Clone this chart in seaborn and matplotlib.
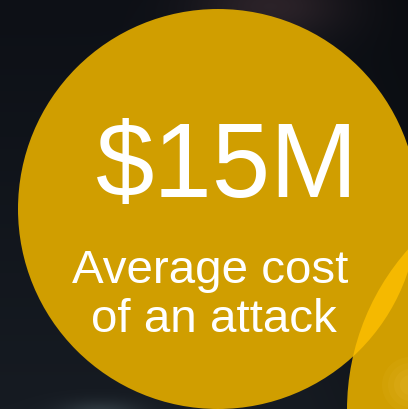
import numpy as np
import matplotlib
matplotlib.use("Agg")
import matplotlib.pyplot as plt
import seaborn as sns
from matplotlib.patches import Circle

# ---- content (infographic) ----
headline = "$15M"
caption_lines = ["Average cost", "of an attack"]

# circles: centre x, centre y, radius (pixel units of the 408x409 canvas)
circle_x = [218, 589]
circle_y = [209, 410]
circle_r = [200, 242]

sns.set_theme(style="dark")
plt.rcParams['font.family'] = ['Liberation Sans', 'DejaVu Sans']

W, H = 408, 409
fig = plt.figure(figsize=(W / 100, H / 100), dpi=100)
ax = fig.add_axes([0, 0, 1, 1])
ax.set_xlim(0, W)
ax.set_ylim(H, 0)
ax.set_axis_off()

# dark photographic background with soft glows
yy, xx = np.mgrid[0:H, 0:W]
base = np.zeros((H, W, 3))
top = np.array([13, 16, 22]) / 255
bot = np.array([22, 27, 34]) / 255
t = yy / H
base[:] = (top[None, None, :] * (1 - t[..., None]) + bot[None, None, :] * t[..., None])
right_dark = np.clip((xx - 300) / 108, 0, 1)[..., None]
base = base * (1 - 0.25 * right_dark)
g1 = np.exp(-(((xx - 270) / 75) ** 2 + ((yy - 5) / 35) ** 2))[..., None]
base = base + g1 * (np.array([30, 18, 18]) / 255)
g2 = np.exp(-(((xx - 100) / 40) ** 2 + ((yy - 412) / 12) ** 2))[..., None]
base = base + g2 * (np.array([25, 30, 30]) / 255)
ax.imshow(np.clip(base, 0, 1), extent=[0, W, H, 0], zorder=0, interpolation="bilinear")

gold = "#D09E00"
bright = "#F5B900"

c_main = Circle((circle_x[0], circle_y[0]), circle_r[0], color=gold, zorder=2, lw=0)
ax.add_patch(c_main)
c_second = Circle((circle_x[1], circle_y[1]), circle_r[1], color=gold, zorder=2, lw=0)
ax.add_patch(c_second)

# overlap (lens) brighter
lens = Circle((circle_x[1], circle_y[1]), circle_r[1], color=bright, zorder=3, lw=0)
ax.add_patch(lens)
lens.set_clip_path(Circle((circle_x[0], circle_y[0]), circle_r[0], transform=ax.transData))

# soft glow on second circle
clip2 = Circle((circle_x[1], circle_y[1]), circle_r[1], transform=ax.transData)
for rr, a in [(28, 0.08), (22, 0.08), (16, 0.1), (10, 0.1)]:
    gl = Circle((410, 385), rr, color="#F2C64A", alpha=a, zorder=3, lw=0)
    ax.add_patch(gl)
    gl.set_clip_path(clip2)

ax.text(227, 197, headline, color="white", fontsize=75.5, ha="center", va="baseline", zorder=5)
ax.text(210, 283, caption_lines[0], color="white", fontsize=34.2, ha="center", va="baseline", zorder=5)
ax.text(214, 332, caption_lines[1], color="white", fontsize=34.2, ha="center", va="baseline", zorder=5)

fig.savefig("out.png", dpi=100)
